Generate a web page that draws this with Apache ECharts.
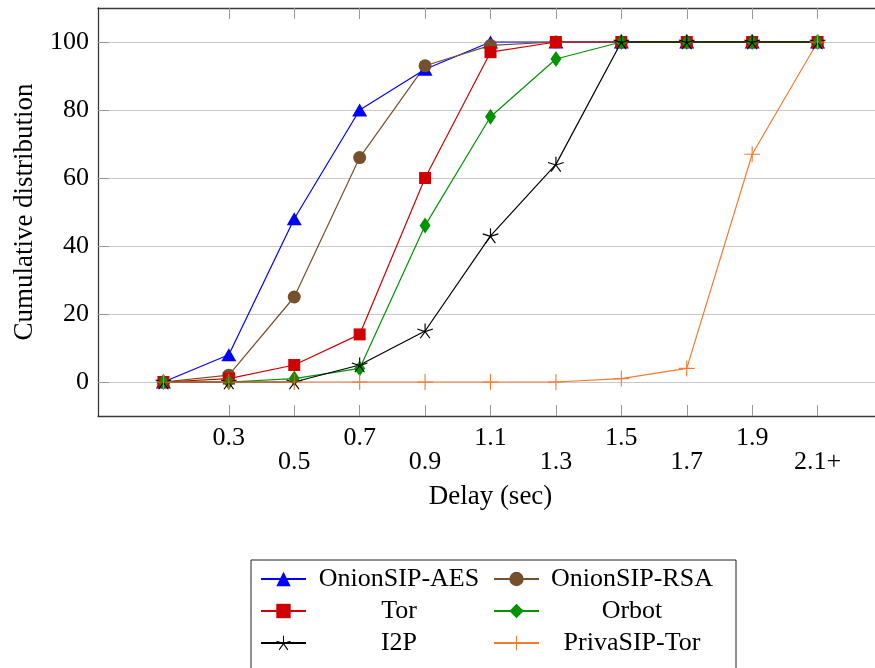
<!DOCTYPE html>
<html><head><meta charset="utf-8">
<script src="https://cdn.jsdelivr.net/npm/echarts@6/dist/echarts.min.js"></script>
<style>html,body{margin:0;padding:0;background:#fff}#c{width:875px;height:668px}</style>
</head><body><div id="c"></div>
<script>
// ---- data ----
const xValues = [0.1, 0.3, 0.5, 0.7, 0.9, 1.1, 1.3, 1.5, 1.7, 1.9, 2.1];
const xTickValues = [0.3, 0.5, 0.7, 0.9, 1.1, 1.3, 1.5, 1.7, 1.9, 2.1];
const xTickLabels = ['0.3', '0.5', '0.7', '0.9', '1.1', '1.3', '1.5', '1.7', '1.9', '2.1+'];
const yTickValues = [0, 20, 40, 60, 80, 100];
const seriesNames = ['OnionSIP-AES', 'OnionSIP-RSA', 'Tor', 'Orbot', 'I2P', 'PrivaSIP-Tor'];
const aesValues   = [0, 8, 48, 80, 92, 100, 100, 100, 100, 100, 100];
const rsaValues   = [0, 2, 25, 66, 93, 99, 100, 100, 100, 100, 100];
const torValues   = [0, 1, 5, 14, 60, 97, 100, 100, 100, 100, 100];
const orbotValues = [0, 0, 1, 4, 46, 78, 95, 100, 100, 100, 100];
const i2pValues   = [0, 0, 0, 5, 15, 43, 64, 100, 100, 100, 100];
const privaValues = [0, 0, 0, 0, 0, 0, 0, 1, 4, 67, 100];

// ---- marker shapes (thin spokes) ----
function spokes(n, w, startDeg) {
  let s = '';
  for (let k = 0; k < n; k++) {
    const t = (startDeg + k * 360 / n) * Math.PI / 180;
    const c = Math.cos(t), sn = Math.sin(t);
    const px = -sn * w, py = c * w;
    const f = v => v.toFixed(4);
    s += 'M' + f(px) + ',' + f(py) + 'L' + f(c + px) + ',' + f(sn + py) +
         'L' + f(c - px) + ',' + f(sn - py) + 'L' + f(-px) + ',' + f(-py) + 'Z';
  }
  return 'path://' + s;
}
const starSym = spokes(5, 0.07, -90);
const plusSym = spokes(4, 0.07, 0);

const FONT = '"Liberation Serif", "Times New Roman", serif';

function mk(name, vals, color, symbol, size) {
  return {
    name: name, type: 'line',
    data: xValues.map((x, i) => [x, vals[i]]),
    symbol: symbol, symbolSize: size, symbolKeepAspect: true,
    lineStyle: { color: color, width: 1.2 },
    itemStyle: { color: color },
    emphasis: { disabled: true },
    animation: false
  };
}

const chart = echarts.init(document.getElementById('c'), null, { renderer: 'canvas' });
chart.setOption({
  backgroundColor: '#fff',
  animation: false,
  textStyle: { fontFamily: FONT },
  grid: { left: 98, top: 8, right: -8, bottom: 252, containLabel: false, outerBoundsMode: 'none' },
  xAxis: [{
    type: 'value', position: 'bottom', min: -0.1, max: 2.3,
    axisLine: { show: true, onZero: false, lineStyle: { color: '#3a3a3a', width: 1.3 } },
    axisTick: { show: true, inside: true, length: 11, customValues: xTickValues, lineStyle: { color: '#999', width: 1 } },
    axisLabel: {
      customValues: xTickValues, margin: 10, fontSize: 26, lineHeight: 24, color: '#000', fontFamily: FONT,
      formatter: function (v) {
        let idx = 0;
        for (let i = 0; i < xTickValues.length; i++) if (Math.abs(xTickValues[i] - v) < 1e-6) idx = i;
        return idx % 2 === 0 ? xTickLabels[idx] : '\n' + xTickLabels[idx];
      }
    },
    splitLine: { show: false },
    name: 'Delay (sec)', nameLocation: 'middle', nameGap: 67,
    nameTextStyle: { fontSize: 27, color: '#000', fontFamily: FONT }
  }, {
    type: 'value', position: 'top', min: -0.1, max: 2.3,
    axisLine: { show: true, onZero: false, lineStyle: { color: '#3a3a3a', width: 1.3 } },
    axisTick: { show: true, inside: true, length: 11, customValues: xTickValues, lineStyle: { color: '#999', width: 1 } },
    axisLabel: { show: false },
    splitLine: { show: false }
  }],
  yAxis: {
    type: 'value', min: -10, max: 110,
    axisLine: { show: true, onZero: false, lineStyle: { color: '#3a3a3a', width: 1.3 } },
    axisTick: { show: true, inside: true, length: 11, customValues: yTickValues, lineStyle: { color: '#999', width: 1 } },
    axisLabel: { customValues: yTickValues, margin: 9, fontSize: 26, color: '#000', fontFamily: FONT },
    splitLine: { show: true, lineStyle: { color: '#c8c8c8', width: 1.2 } },
    name: 'Cumulative distribution', nameLocation: 'middle', nameGap: 60, nameRotate: 90,
    nameTextStyle: { fontSize: 27, color: '#000', fontFamily: FONT }
  },
  legend: {
    data: seriesNames,
    left: 251, top: 560, width: 470, orient: 'horizontal',
    itemWidth: 45, itemHeight: 18, itemGap: 6,
    padding: [6, 16, 40, 9],
    borderColor: '#222', borderWidth: 1, backgroundColor: '#fff',
    selectedMode: false,
    formatter: '{t|{name}}',
    textStyle: {
      fontFamily: FONT, fontSize: 26, color: '#000',
      rich: { t: { width: 176, align: 'center', fontSize: 26, lineHeight: 26, fontFamily: FONT, color: '#000' } }
    }
  },
  series: [
    mk(seriesNames[0], aesValues, '#0000ff', 'triangle', [15, 13]),
    mk(seriesNames[1], rsaValues, '#74502c', 'circle', 13),
    mk(seriesNames[2], torValues, '#d00000', 'rect', 12),
    mk(seriesNames[3], orbotValues, '#009400', 'diamond', [11, 16]),
    mk(seriesNames[4], i2pValues, '#000000', starSym, 16),
    mk(seriesNames[5], privaValues, '#f77a30', plusSym, 16)
  ]
});
</script>
</body></html>
